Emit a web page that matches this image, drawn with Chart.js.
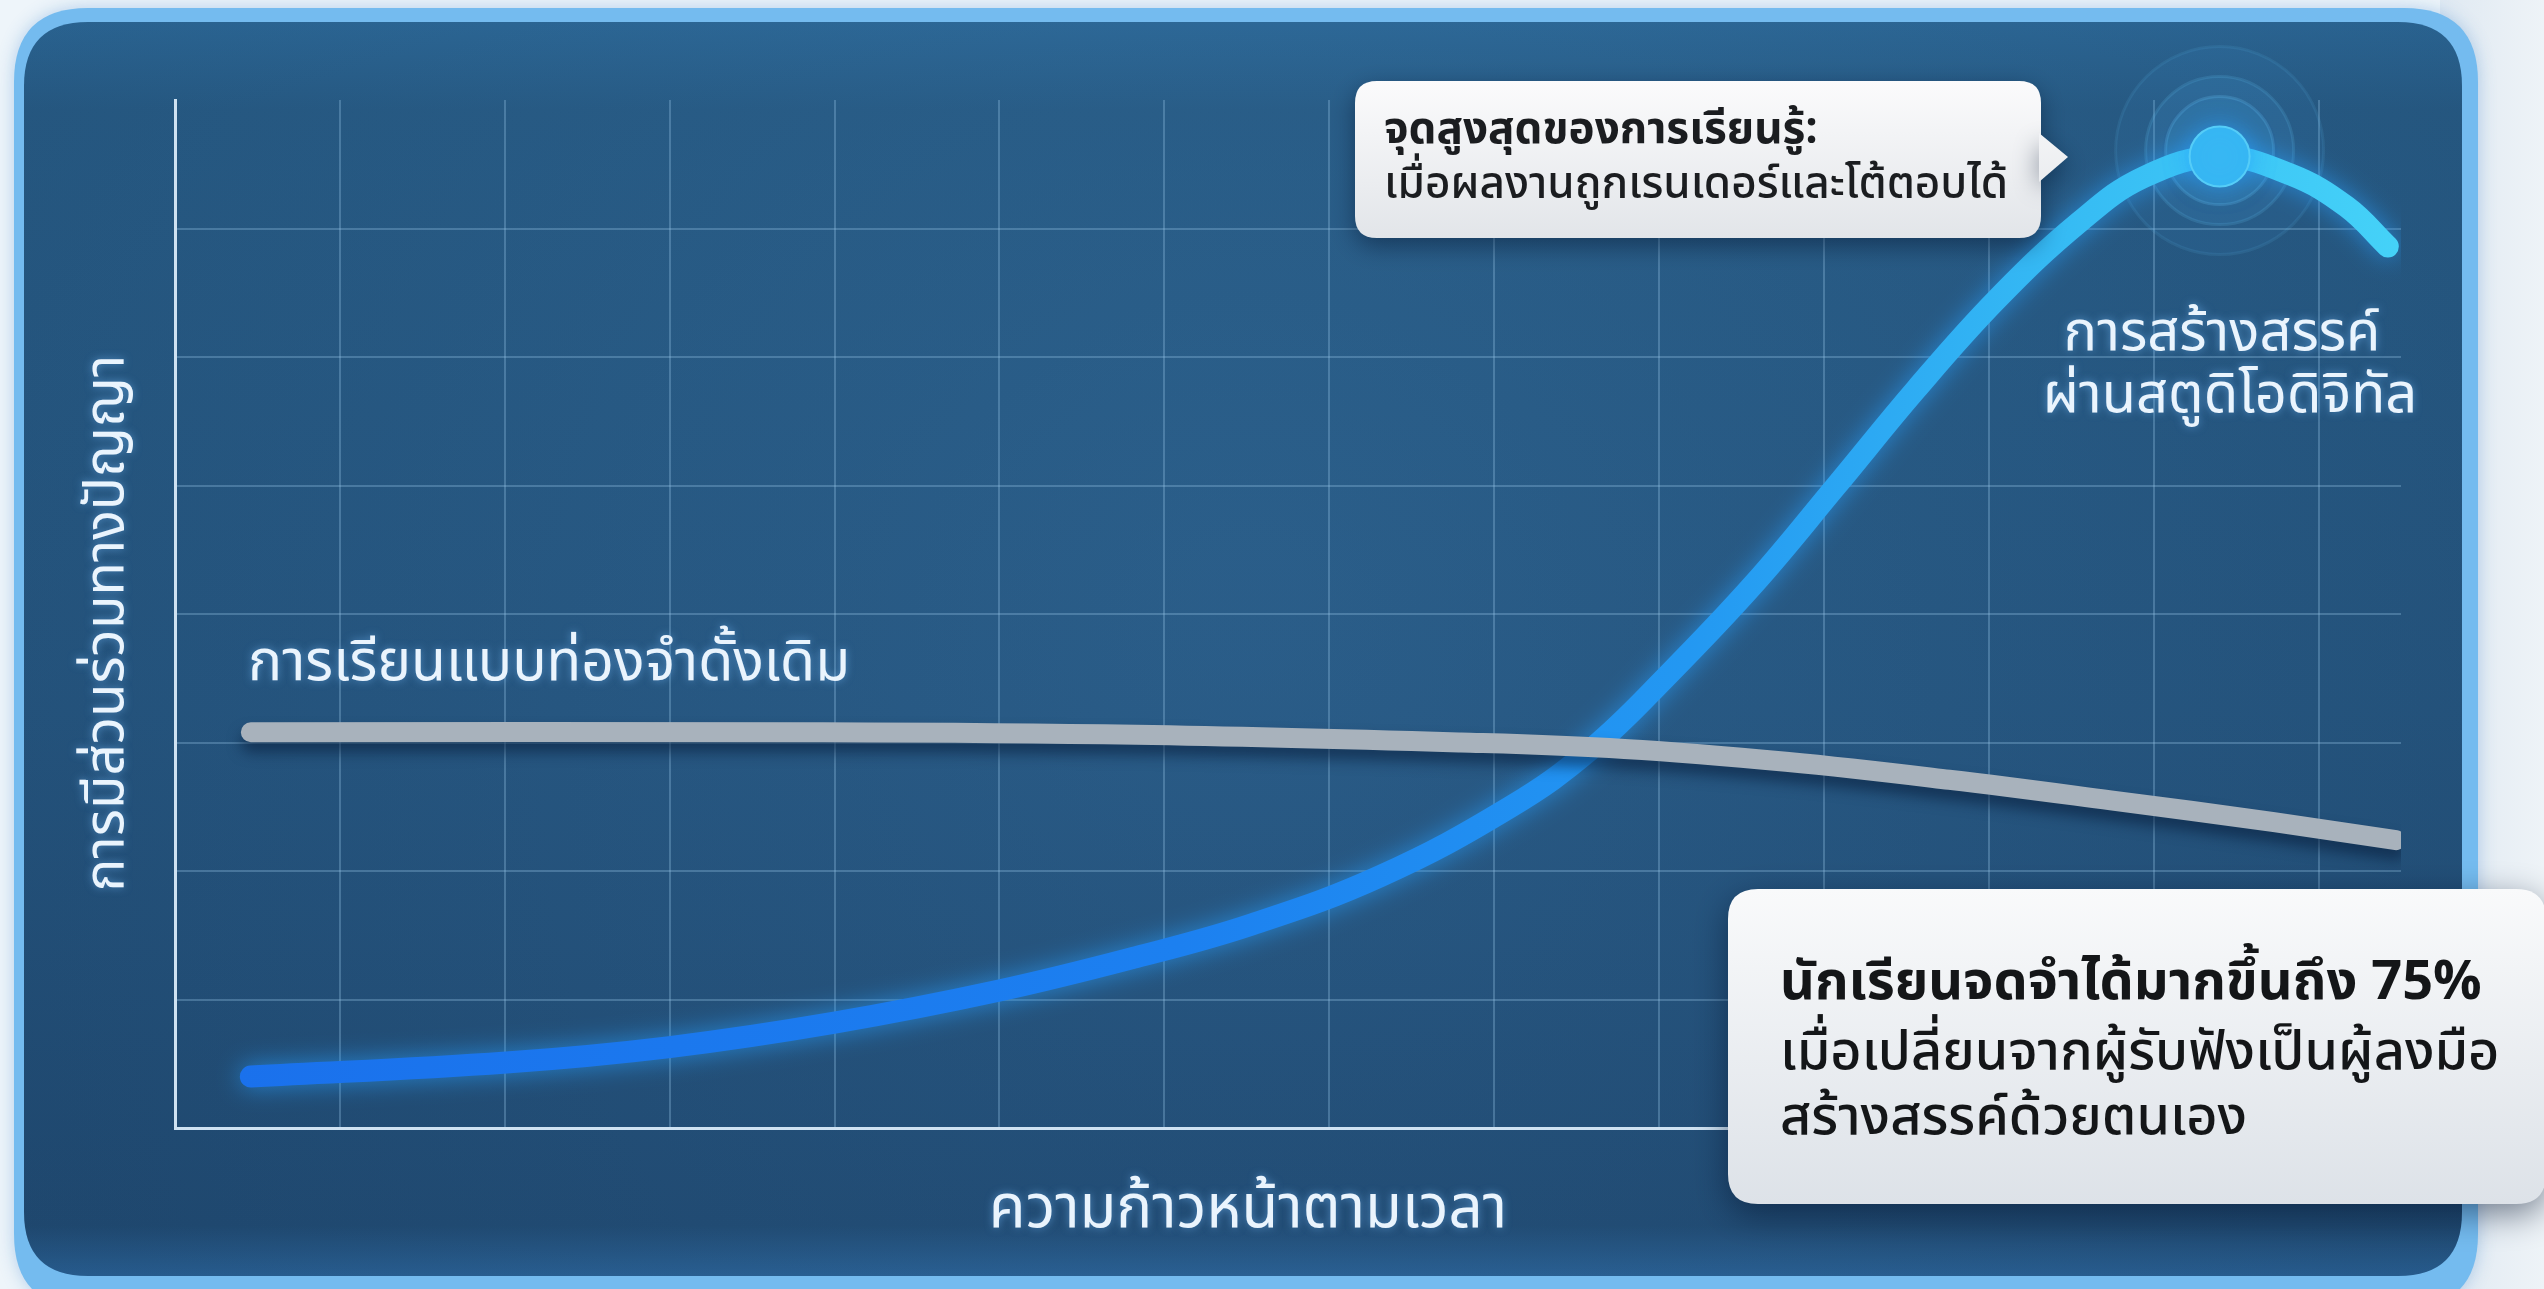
<!DOCTYPE html>
<html><head><meta charset="utf-8">
<script src="https://cdn.jsdelivr.net/npm/chart.js@4.4.1/dist/chart.umd.min.js"></script>
<style>html,body{margin:0;padding:0;background:#eef5fa;overflow:hidden}canvas{display:block}</style>
</head><body>
<canvas id="c" width="2544" height="1289"></canvas>
<script>
// ---- text ----
const xAxisTitle = 'ความก้าวหน้าตามเวลา';
const yAxisTitle = 'การมีส่วนร่วมทางปัญญา';
const traditionalLabel = 'การเรียนแบบท่องจำดั้งเดิม';
const creativeLabel = ['การสร้างสรรค์', 'ผ่านสตูดิโอดิจิทัล'];
const peakNote = ['จุดสูงสุดของการเรียนรู้:', 'เมื่อผลงานถูกเรนเดอร์และโต้ตอบได้'];
const statNote = ['นักเรียนจดจำได้มากขึ้นถึง 75%', 'เมื่อเปลี่ยนจากผู้รับฟังเป็นผู้ลงมือ', 'สร้างสรรค์ด้วยตนเอง'];

// ---- data (time progress vs cognitive engagement) ----
const traditionalX = [0.46, 3.86, 5.83, 7.80, 8.79, 9.77, 10.76, 11.74, 12.73, 13.47];
const traditionalY = [3.08, 3.08, 3.06, 3.00, 2.95, 2.85, 2.71, 2.55, 2.38, 2.24];
const creativeX = [0.46, 2.01, 3.00, 4.00, 5.00, 5.83, 6.52, 7.31, 8.10, 8.59, 9.05, 9.58, 10.07, 10.56, 11.05, 11.55, 11.94, 12.40, 12.83, 13.17, 13.42];
const creativeY = [0.40, 0.51, 0.63, 0.82, 1.07, 1.33, 1.58, 1.96, 2.50, 2.95, 3.52, 4.24, 4.99, 5.75, 6.45, 7.05, 7.40, 7.56, 7.42, 7.17, 6.86];
const peakIndex = 17;
const xRange = [0, 13.5];
const yRange = [0, 8];

const FONT = '"Noto Sans Thai", "Noto Sans Thai UI", "Noto Sans", "DejaVu Sans", sans-serif';

function rr(ctx, x, y, w, h, r) {
  ctx.beginPath();
  ctx.moveTo(x + r, y);
  ctx.lineTo(x + w - r, y);
  ctx.quadraticCurveTo(x + w, y, x + w, y + r);
  ctx.lineTo(x + w, y + h - r);
  ctx.quadraticCurveTo(x + w, y + h, x + w - r, y + h);
  ctx.lineTo(x + r, y + h);
  ctx.quadraticCurveTo(x, y + h, x, y + h - r);
  ctx.lineTo(x, y + r);
  ctx.quadraticCurveTo(x, y, x + r, y);
  ctx.closePath();
}

const panelPlugin = {
  id: 'panel',
  beforeDraw(chart) {
    const c = chart.ctx, W = chart.width, H = chart.height;
    c.save();
    c.fillStyle = '#eef5fa';
    c.fillRect(0, 0, W, H);
    const rg = c.createLinearGradient(2440, 0, W, 0);
    rg.addColorStop(0, '#dfe9f2'); rg.addColorStop(1, '#eef3f7');
    c.fillStyle = rg; c.fillRect(2440, 0, W - 2440, H);
    c.shadowColor = 'rgba(60,130,200,0.35)'; c.shadowBlur = 18;
    rr(c, 14, 8, 2464, 1300, 74);
    c.fillStyle = '#74bbef'; c.fill();
    c.shadowBlur = 0;
    const g = c.createLinearGradient(0, 22, 0, 1276);
    g.addColorStop(0, '#2d6a99');
    g.addColorStop(0.07, '#285d87');
    g.addColorStop(0.55, '#265781');
    g.addColorStop(0.96, '#214c74');
    g.addColorStop(1, '#2a6296');
    rr(c, 24, 22, 2438, 1254, 64);
    c.fillStyle = g; c.fill();
    const rad = c.createRadialGradient(1250, 600, 50, 1250, 600, 1300);
    rad.addColorStop(0, 'rgba(70,130,185,0.12)');
    rad.addColorStop(1, 'rgba(10,30,60,0.10)');
    c.fillStyle = rad; c.fill();
    c.restore();
  }
};

const glowPlugin = {
  id: 'glow',
  beforeDatasetsDraw(chart) {
    const el = chart.getDatasetMeta(1).data[peakIndex];
    if (!el) return;
    const c = chart.ctx;
    c.save();
    const radii = [104, 74, 54];
    radii.forEach((r, i) => {
      c.beginPath(); c.arc(el.x, el.y - 6, r, 0, Math.PI * 2);
      c.fillStyle = 'rgba(70,175,240,' + (0.07 + i * 0.05) + ')';
      c.fill();
      c.lineWidth = 3;
      c.strokeStyle = 'rgba(110,205,255,' + (0.10 + i * 0.05) + ')';
      c.stroke();
    });
    c.restore();
  },
  beforeDatasetDraw(chart, args) {
    const c = chart.ctx;
    c.save();
    if (args.index === 1) {
      c.shadowColor = 'rgba(40,160,255,0.65)'; c.shadowBlur = 24;
    } else {
      c.shadowColor = 'rgba(5,25,55,0.55)'; c.shadowBlur = 14; c.shadowOffsetY = 10;
    }
  },
  afterDatasetDraw(chart) { chart.ctx.restore(); },
  afterDatasetsDraw(chart) {
    const c = chart.ctx;
    c.save();
    c.textBaseline = 'middle';
    c.fillStyle = '#eaf4fd';
    c.shadowColor = 'rgba(120,190,255,0.55)'; c.shadowBlur = 8;
    c.font = '57px ' + FONT; c.textAlign = 'left';
    c.fillText(traditionalLabel, 248, 668);
    c.textAlign = 'center';
    c.font = '56px ' + FONT;
    c.fillText(creativeLabel[0], 2222, 339);
    c.fillText(creativeLabel[1], 2230, 401);
    c.font = '60px ' + FONT;
    c.fillText(xAxisTitle, 1248, 1215);
    c.translate(112, 623); c.rotate(-Math.PI / 2);
    c.font = '55px ' + FONT;
    c.fillText(yAxisTitle, 0, 0);
    c.restore();
  },
  afterDraw(chart) {
    const c = chart.ctx;
    c.save();
    c.shadowColor = 'rgba(0,15,40,0.45)'; c.shadowBlur = 24; c.shadowOffsetY = 8;
    const g1 = c.createLinearGradient(0, 81, 0, 238);
    g1.addColorStop(0, '#fbfbfc'); g1.addColorStop(1, '#e2e5e9');
    c.fillStyle = g1;
    rr(c, 1355, 81, 686, 157, 22); c.fill();
    c.beginPath(); c.moveTo(2039, 133); c.lineTo(2068, 157); c.lineTo(2039, 182); c.closePath(); c.fill();
    c.shadowColor = 'transparent';
    c.fillStyle = '#1b1d20'; c.textAlign = 'left'; c.textBaseline = 'middle';
    c.font = 'bold 44px ' + FONT; c.fillText(peakNote[0], 1384, 134);
    c.font = '500 44px ' + FONT; c.fillText(peakNote[1], 1384, 189);
    c.shadowColor = 'rgba(0,15,40,0.5)'; c.shadowBlur = 34; c.shadowOffsetY = 10;
    const g2 = c.createLinearGradient(0, 889, 0, 1204);
    g2.addColorStop(0, '#f9fafb'); g2.addColorStop(1, '#dde2e8');
    c.fillStyle = g2;
    rr(c, 1728, 889, 818, 315, 30); c.fill();
    c.shadowColor = 'transparent';
    c.fillStyle = '#141618';
    c.font = 'bold 54px ' + FONT; c.fillText(statNote[0], 1780, 988);
    c.font = '500 54px ' + FONT; c.fillText(statNote[1], 1780, 1058);
    c.fillText(statNote[2], 1780, 1123);
    c.restore();
  }
};

function blueGradient(ctx) {
  const chart = ctx.chart, a = chart.chartArea;
  if (!a) return '#1e88e5';
  const g = chart.ctx.createLinearGradient(a.left, 0, a.right, 0);
  g.addColorStop(0, '#1a70ec');
  g.addColorStop(0.45, '#1c80f0');
  g.addColorStop(0.68, '#2398f2');
  g.addColorStop(0.86, '#37bdf4');
  g.addColorStop(1, '#45d2f8');
  return g;
}

const gridColor = 'rgba(150,195,230,0.32)';

new Chart(document.getElementById('c'), {
  type: 'line',
  data: {
    datasets: [
      {
        label: traditionalLabel,
        data: traditionalX.map((x, i) => ({ x, y: traditionalY[i] })),
        borderColor: '#a8b2bc',
        borderWidth: 20,
        borderCapStyle: 'round',
        tension: 0.4,
        pointRadius: 0,
        fill: false
      },
      {
        label: creativeLabel.join(' '),
        data: creativeX.map((x, i) => ({ x, y: creativeY[i] })),
        borderColor: blueGradient,
        borderWidth: 22,
        borderCapStyle: 'round',
        tension: 0.4,
        pointRadius: (ctx) => ctx.dataIndex === peakIndex ? 30 : 0,
        pointBackgroundColor: '#38b8f3',
        pointBorderColor: '#55cdf8',
        pointBorderWidth: 2,
        fill: false
      }
    ]
  },
  options: {
    responsive: false,
    devicePixelRatio: 1,
    animation: false,
    events: [],
    layout: { padding: { left: 175, right: 143, top: 100, bottom: 161 } },
    plugins: { legend: { display: false }, tooltip: { enabled: false } },
    scales: {
      x: {
        type: 'linear', min: xRange[0], max: xRange[1],
        ticks: { display: false, stepSize: 1 },
        grid: {
          drawTicks: false, lineWidth: 2,
          color: (ctx) => (ctx.tick && (ctx.tick.value <= 0 || ctx.tick.value > 13)) ? 'rgba(0,0,0,0)' : gridColor
        },
        border: { display: true, color: '#cfe2f2', width: 3 },
        title: { display: false, text: xAxisTitle }
      },
      y: {
        type: 'linear', min: yRange[0], max: yRange[1],
        ticks: { display: false, stepSize: 1 },
        grid: {
          drawTicks: false, lineWidth: 2,
          color: (ctx) => (ctx.tick && (ctx.tick.value <= 0 || ctx.tick.value >= 8)) ? 'rgba(0,0,0,0)' : gridColor
        },
        border: { display: true, color: '#cfe2f2', width: 3 },
        title: { display: false, text: yAxisTitle }
      }
    }
  },
  plugins: [panelPlugin, glowPlugin]
});
</script>
</body></html>
